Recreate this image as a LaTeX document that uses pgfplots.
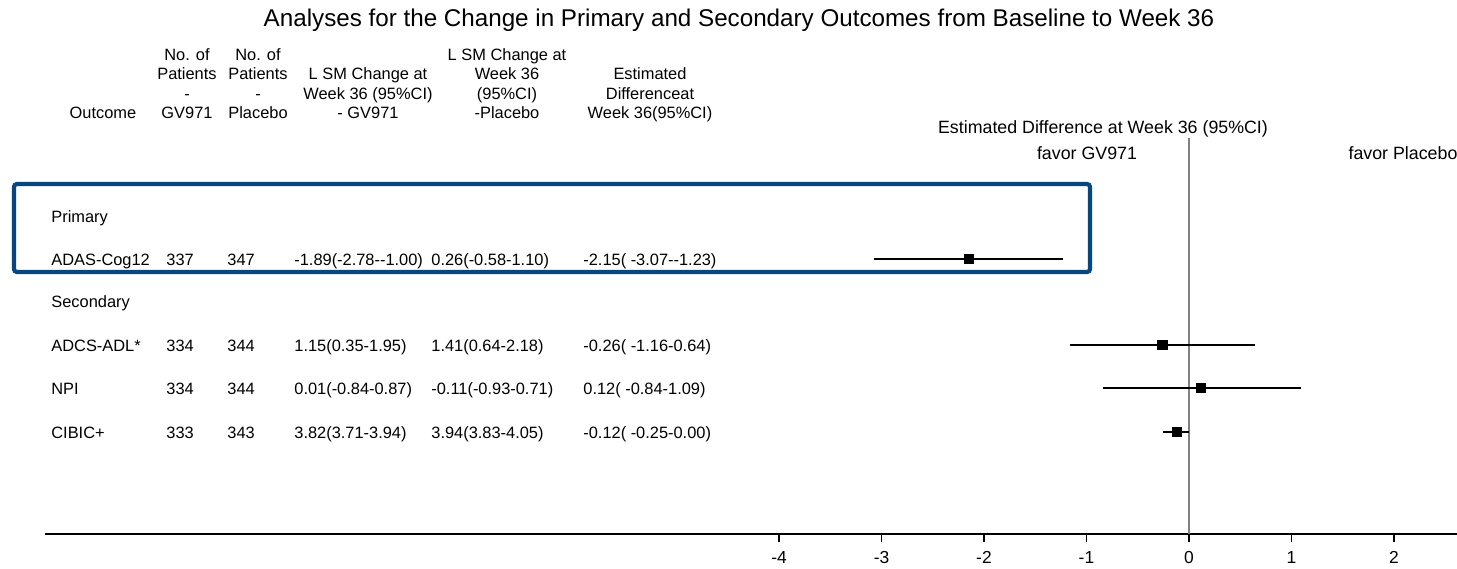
\documentclass[border=0pt]{standalone}
\usepackage{pgfplots}
\pgfplotsset{compat=1.18}
\usepackage{fontspec}
\setmainfont{Liberation Sans}
\definecolor{boxblue}{RGB}{8,70,128}
\newcommand{\fs}{\fontsize{8.2pt}{9.5pt}\selectfont}
\begin{document}
\begin{tikzpicture}
\path[use as bounding box] (0,0) rectangle (728.5pt,-284pt);
\begin{axis}[
  at={(22.5pt,-267pt)}, anchor=south west,
  scale only axis, width=706pt, height=198pt,
  xmin=-11.161, xmax=2.615, ymin=-534, ymax=-138,
  axis x line=bottom, axis y line=none,
  x axis line style={-, black, line width=1.1pt},
  xtick={-4,-3,-2,-1,0,1,2},
  tick align=outside, major tick length=4pt,
  xtick style={black, line width=0.8pt},
  xticklabel style={font=\fontsize{8.7pt}{10pt}\selectfont, yshift=-1pt},
  /pgf/number format/assume math mode=true,
  clip=false,
]
\addplot[gray, line width=0.8pt] coordinates {(0,-138) (0,-534)};
\addplot[black, only marks, mark=square*, mark size=2.3pt,
  error bars/.cd, x dir=both, x explicit, error mark=none,
  error bar style={line width=0.8pt, black}]
  coordinates {
  (-2.15,-259) += (0.92,0) -= (0.92,0)
  (-0.26,-345) += (0.90,0) -= (0.90,0)
  (0.12,-388) += (0.97,0) -= (0.96,0)
  (-0.12,-432) += (0.12,0) -= (0.13,0)
  };
\end{axis}
\begin{scope}[x=0.5pt,y=-0.5pt]
\draw[boxblue, line width=2.1pt, rounded corners=1.5pt] (14,184) rectangle (1090,272);
\node[font=\fontsize{12.1pt}{14pt}\selectfont] at (739,20) {Analyses for the Change in Primary and Secondary Outcomes from Baseline to Week 36};
% header
\begin{scope}[every node/.style={font=\fs, inner sep=0pt, anchor=base}]
\node at (103,118) {Outcome};
\node at (187,60) {No. of};
\node at (187,79) {Patients};
\node at (187,99) {-};
\node at (187,118) {GV971};
\node at (258,60) {No. of};
\node at (258,79) {Patients};
\node at (258,99) {-};
\node at (258,118) {Placebo};
\node at (368,79) {L SM Change at};
\node at (368,99) {Week 36 (95\%CI)};
\node at (368,118) {- GV971};
\node at (507,60) {L SM Change at};
\node at (507,79) {Week 36};
\node at (507,99) {(95\%CI)};
\node at (507,118) {-Placebo};
\node at (650,79) {Estimated};
\node at (650,99) {Differenceat};
\node at (650,118) {Week 36(95\%CI)};
\end{scope}
\begin{scope}[every node/.style={font=\fontsize{8.9pt}{10pt}\selectfont, inner sep=0pt, anchor=base}]
\node at (1103,133) {Estimated Difference at Week 36 (95\%CI)};
\node at (1087,159) {favor GV971};
\node at (1403,159) {favor Placebo};
\end{scope}
% body
\begin{scope}[every node/.style={font=\fs, inner sep=0pt, anchor=base west}]
\node at (51,222) {Primary};
\node at (51,265) {ADAS-Cog12};
\node at (166,265) {337};
\node at (227,265) {347};
\node at (294,265) {-1.89(-2.78-{}-1.00)};
\node at (431,265) {0.26(-0.58-1.10)};
\node at (583,265) {-2.15( -3.07-{}-1.23)};
\node at (51,307) {Secondary};
\node at (51,351) {ADCS-ADL*};
\node at (166,351) {334};
\node at (227,351) {344};
\node at (294,351) {1.15(0.35-1.95)};
\node at (431,351) {1.41(0.64-2.18)};
\node at (583,351) {-0.26( -1.16-0.64)};
\node at (51,394) {NPI};
\node at (166,394) {334};
\node at (227,394) {344};
\node at (294,394) {0.01(-0.84-0.87)};
\node at (431,394) {-0.11(-0.93-0.71)};
\node at (583,394) {0.12( -0.84-1.09)};
\node at (51,438) {CIBIC+};
\node at (166,438) {333};
\node at (227,438) {343};
\node at (294,438) {3.82(3.71-3.94)};
\node at (431,438) {3.94(3.83-4.05)};
\node at (583,438) {-0.12( -0.25-0.00)};
\end{scope}
\end{scope}
\end{tikzpicture}
\end{document}
